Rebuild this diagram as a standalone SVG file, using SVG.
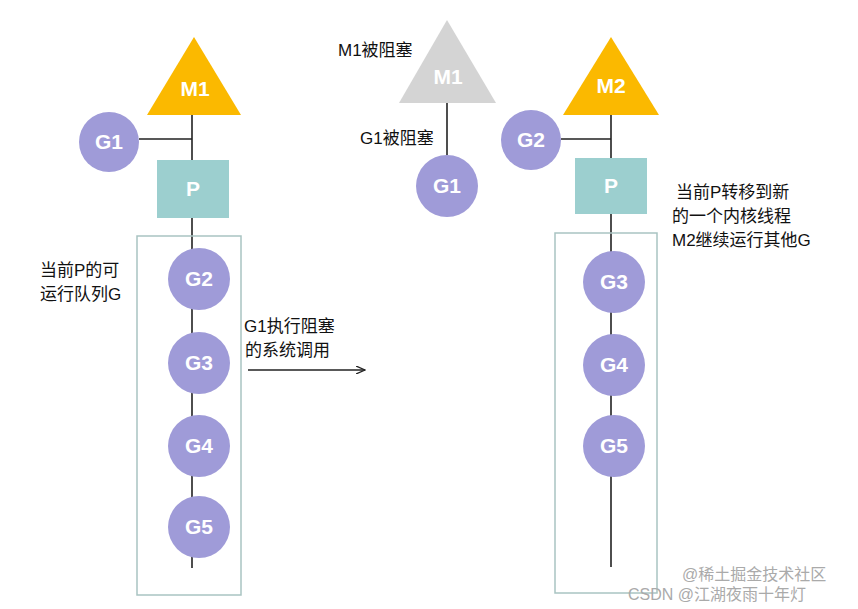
<svg xmlns="http://www.w3.org/2000/svg" width="858" height="609" viewBox="0 0 858 609">
<defs>
<style>
.g{fill:#9f9bd8}
.p{fill:#9ccfcf}
.lt{fill:#fff;font-family:"Liberation Sans",Arial,sans-serif;font-weight:bold;font-size:21px;text-anchor:middle}
.t{fill:#111;font-family:"Liberation Sans","Noto Sans CJK SC",sans-serif;font-size:17px}
.ln{stroke:#222;stroke-width:1.6;fill:none}
.box{fill:none;stroke:#a9c4c2;stroke-width:1.5}
.wm{fill:#aaa;font-family:"Liberation Sans","Noto Sans CJK SC",sans-serif;font-size:16px}
</style>
<marker id="ah" markerWidth="10" markerHeight="8" refX="9" refY="4" orient="auto" markerUnits="userSpaceOnUse"><path d="M0,0 L9,4 L0,8" fill="none" stroke="#222" stroke-width="1.3"/></marker>
</defs>
<rect width="858" height="609" fill="#fff"/>
<g id="connectors">
<path class="ln" d="M192,115 V160 M139,139 H192 M192,218 V568"/>
<path class="ln" d="M447,103 V155"/>
<path class="ln" d="M611,115 V158 M561,139 H611 M611,214 V567"/>
<path class="ln" d="M248,370 H365" marker-end="url(#ah)"/>
</g>
<rect class="box" x="137" y="236" width="104" height="359"/>
<rect class="box" x="555" y="233" width="102" height="360"/>
<g id="M1"><polygon points="194,37 147,115 241,115" fill="#fbb900"/><text class="lt" x="195" y="96">M1</text></g>
<g id="G1L"><circle class="g" cx="109" cy="142" r="30"/><text class="lt" x="109" y="149">G1</text></g>
<g id="PL"><rect class="p" x="157" y="160" width="72" height="58"/><text class="lt" x="193" y="196">P</text></g>
<g id="G2L"><circle class="g" cx="199" cy="279" r="31"/><text class="lt" x="199" y="286">G2</text></g>
<g id="G3L"><circle class="g" cx="199" cy="363" r="31"/><text class="lt" x="199" y="370">G3</text></g>
<g id="G4L"><circle class="g" cx="199" cy="446" r="31"/><text class="lt" x="199" y="453">G4</text></g>
<g id="G5L"><circle class="g" cx="199" cy="527" r="31"/><text class="lt" x="199" y="534">G5</text></g>
<text class="t" x="40" y="276">当前P的可</text>
<text class="t" x="40" y="300">运行队列G</text>
<text class="t" x="244" y="332">G1执行阻塞</text>
<text class="t" x="245" y="356">的系统调用</text>
<g id="M1b"><polygon points="447,20 399,103 496,103" fill="#d4d4d4"/><text class="lt" x="448" y="84">M1</text></g>
<text class="t" x="338" y="56">M1被阻塞</text>
<text class="t" x="360" y="144">G1被阻塞</text>
<g id="G1M"><circle class="g" cx="447" cy="186" r="31"/><text class="lt" x="447" y="193">G1</text></g>
<g id="M2"><polygon points="611,37 563,115 659,115" fill="#fbb900"/><text class="lt" x="611" y="93">M2</text></g>
<g id="G2R"><circle class="g" cx="531" cy="140" r="30"/><text class="lt" x="531" y="147">G2</text></g>
<g id="PR"><rect class="p" x="575" y="158" width="72" height="56"/><text class="lt" x="611" y="193">P</text></g>
<g id="G3R"><circle class="g" cx="614" cy="282" r="31"/><text class="lt" x="614" y="289">G3</text></g>
<g id="G4R"><circle class="g" cx="614" cy="365" r="31"/><text class="lt" x="614" y="372">G4</text></g>
<g id="G5R"><circle class="g" cx="614" cy="446" r="31"/><text class="lt" x="614" y="453">G5</text></g>
<text class="t" x="676" y="198">当前P转移到新</text>
<text class="t" x="672" y="222">的一个内核线程</text>
<text class="t" x="672" y="246">M2继续运行其他G</text>
<text class="wm" x="682" y="580">@稀土掘金技术社区</text>
<text class="wm" x="628" y="600">CSDN @江湖夜雨十年灯</text>
</svg>
